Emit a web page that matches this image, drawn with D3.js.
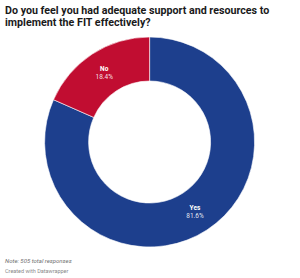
<!DOCTYPE html>
<html><head><meta charset="utf-8">
<script src="https://cdn.jsdelivr.net/npm/d3@7"></script>
<style>html,body{margin:0;padding:0;background:#fff;}svg{display:block;font-family:Roboto,sans-serif;}</style>
</head><body>
<svg id="c" width="300" height="278"></svg>
<script>
const categories = ["Yes", "No"];
const values = [81.6, 18.4];
const colors = ["#1d3f8d", "#c10d31"];
const titleLines = ["Do you feel you had adequate support and resources to", "implement the FIT effectively?"];
const note = "Note: 505 total responses";
const credit = "Created with Datawrapper";

const svg = d3.select("#c");
const cx = 149.6, cy = 142, rOuter = 105, rInner = 61;

svg.append("g").selectAll("text").data(titleLines).join("text")
  .attr("x", 5).attr("y", (d, i) => 13.5 + i * 12.6)
  .attr("font-size", 10.7).attr("font-weight", 700).attr("fill", "#1a1a1a")
  .text(d => d);

const pie = d3.pie().sort(null).value(d => d.v);
const data = pie(categories.map((c, i) => ({c, v: values[i], col: colors[i]})));
const arc = d3.arc().innerRadius(rInner).outerRadius(rOuter);
const g = svg.append("g").attr("transform", `translate(${cx},${cy})`);
g.selectAll("path").data(data).join("path")
  .attr("d", arc).attr("fill", d => d.data.col)
  .attr("stroke", "#fff").attr("stroke-width", 0.6);

const lab = g.selectAll("g.lab").data(data).join("g").attr("class", "lab")
  .attr("transform", d => `translate(${arc.centroid(d)})`);
lab.append("text").attr("text-anchor", "middle").attr("y", -1.5)
  .attr("font-size", 6.5).attr("font-weight", 700).attr("fill", "#fff")
  .text(d => d.data.c);
lab.append("text").attr("text-anchor", "middle").attr("y", 6.5)
  .attr("font-size", 6.5).attr("fill", "#fff").attr("fill-opacity", 0.9)
  .text(d => d.data.v.toFixed(1) + "%");

svg.append("text").attr("x", 5).attr("y", 262.5)
  .attr("font-size", 6).attr("font-style", "italic").attr("fill", "#707070").text(note);
svg.append("text").attr("x", 5).attr("y", 272.5)
  .attr("font-size", 5.5).attr("fill", "#8a8a8a").text(credit);
</script>
</body></html>
